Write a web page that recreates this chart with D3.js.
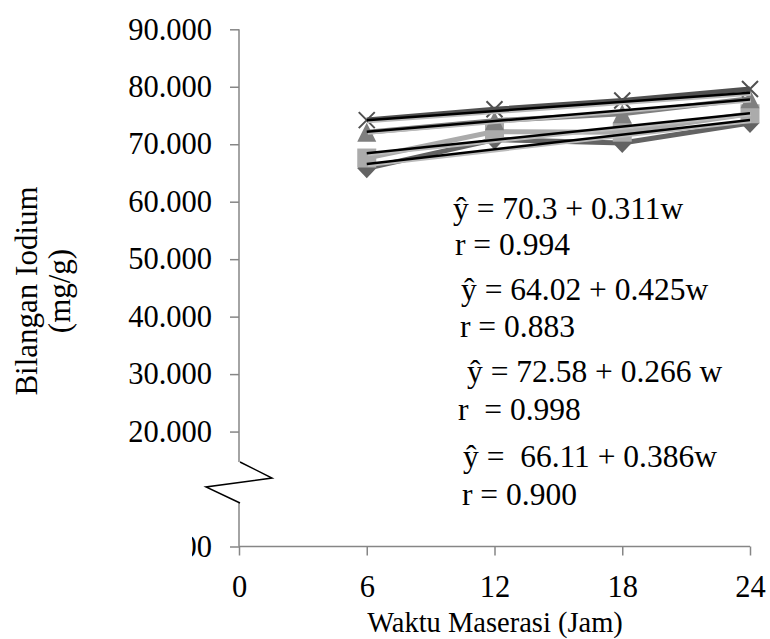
<!DOCTYPE html>
<html lang="id">
<head>
<meta charset="UTF-8">
<script src="https://d3js.org/d3.v7.min.js"></script>
<style>
  body { margin: 0; background: white; }
  svg { display: block; }
  .axis path, .axis line { stroke: #868686; stroke-width: 1.5px; }
</style>
</head>
<body>
<svg width="770" height="639"></svg>
<script>
// data
var waktu = [6, 12, 18, 24];
var xTicks = [0, 6, 12, 18, 24];
var yTicks = [0, 10, 20, 30, 40, 50, 60, 70, 80, 90];

var diamondVals = [65.8, 70.8, 70.2, 73.7];
var squareVals = [67.6, 72.2, 72.1, 75.3];
var triangleVals = [72.1, 74.1, 75.3, 77.9];
var crossVals = [74.2, 76.1, 77.6, 79.6];

// regression lines (from the printed equations)
var trendA = [64.02, 66.11, 70.3, 72.58];
var trendB = [0.425, 0.386, 0.311, 0.266];

var eqLines = [
  "\u0177 = 70.3 + 0.311w",
  "r = 0.994",
  "\u0177 = 64.02 + 0.425w",
  "r = 0.883",
  "\u0177 = 72.58 + 0.266 w",
  "r  = 0.998",
  "\u0177 =  66.11 + 0.386w",
  "r = 0.900"
];

var FONT = "'Liberation Serif', 'Times New Roman', serif";

var svg = d3.select("svg");

var x = d3.scaleLinear().domain([0, 24]).range([239, 750]);
var y = d3.scaleLinear().domain([0, 90]).range([546.5, 29.3]);

// axes
var yAxis = svg.append("g")
  .attr("class", "axis")
  .attr("transform", "translate(239,0)")
  .call(d3.axisLeft(y).tickValues(yTicks).tickSize(9).tickPadding(18)
    .tickFormat(function (d) { return d.toFixed(3); }));
yAxis.select(".domain").attr("d", "M0," + y(90) + "V" + y(0));

var xAxis = svg.append("g")
  .attr("class", "axis")
  .attr("transform", "translate(0," + y(0) + ")")
  .call(d3.axisBottom(x).tickValues(xTicks).tickSize(9).tickPadding(20));
xAxis.select(".domain").attr("d", "M" + x(0) + ",0H" + x(24));

svg.selectAll(".axis")
  .attr("font-family", FONT)
  .attr("font-size", 30.5)
  .selectAll("text").attr("fill", "black");

// axis break: hide the 10.000 part and most of the 0.000 label
svg.append("rect").attr("x", 110).attr("y", 462).attr("width", 135).attr("height", 41).attr("fill", "white");
svg.append("rect").attr("x", 110).attr("y", 530).attr("width", 82).attr("height", 32).attr("fill", "white");
svg.append("path")
  .attr("d", "M240,462L272,478L206,487L240,503")
  .attr("fill", "none")
  .attr("stroke", "black")
  .attr("stroke-width", 1.5);

// series
var series = [
  { vals: diamondVals, color: "#636363", shape: "diamond" },
  { vals: squareVals, color: "#ababab", shape: "square" },
  { vals: triangleVals, color: "#7f7f7f", shape: "triangle" },
  { vals: crossVals, color: "#505050", shape: "cross" }
];

var line = d3.line()
  .x(function (d, i) { return x(waktu[i]); })
  .y(function (d) { return y(d); });

var markerPath = {
  diamond: "M0,-10L9.5,0L0,10L-9.5,0Z",
  square: "M-9.5,-9.5H9.5V9.5H-9.5Z",
  triangle: "M0,-9.5L9.5,9.5H-9.5Z",
  cross: "M-8,-8L8,8M-8,8L8,-8"
};

series.forEach(function (s) {
  svg.append("path")
    .datum(s.vals)
    .attr("d", line)
    .attr("fill", "none")
    .attr("stroke", s.color)
    .attr("stroke-width", 5);

  svg.selectAll(null)
    .data(s.vals)
    .enter().append("path")
    .attr("transform", function (d, i) { return "translate(" + x(waktu[i]) + "," + y(d) + ")"; })
    .attr("d", markerPath[s.shape])
    .attr("fill", s.shape == "cross" ? "none" : s.color)
    .attr("stroke", s.color)
    .attr("stroke-width", s.shape == "cross" ? 2 : 0);
});

// trend lines
trendA.forEach(function (a, k) {
  var b = trendB[k];
  svg.append("line")
    .attr("x1", x(6)).attr("y1", y(a + b * 6))
    .attr("x2", x(24)).attr("y2", y(a + b * 24))
    .attr("stroke", "#bbbbbb")
    .attr("stroke-width", 3)
    .attr("transform", "translate(1,1.5)");
  svg.append("line")
    .attr("x1", x(6)).attr("y1", y(a + b * 6))
    .attr("x2", x(24)).attr("y2", y(a + b * 24))
    .attr("stroke", "black")
    .attr("stroke-width", 2.5);
});

// equation labels
var eqPos = [[453, 219], [455, 255], [461, 300], [460, 337], [467, 382], [458, 420], [463, 467], [462, 505]];
svg.selectAll(".eq")
  .data(eqLines)
  .enter().append("text")
  .attr("class", "eq")
  .attr("x", function (d, i) { return eqPos[i][0]; })
  .attr("y", function (d, i) { return eqPos[i][1]; })
  .attr("font-family", FONT)
  .attr("font-size", 31.5)
  .style("white-space", "pre")
  .text(function (d) { return d; });

// axis titles
svg.append("text")
  .attr("x", 495).attr("y", 632)
  .attr("text-anchor", "middle")
  .attr("font-family", FONT)
  .attr("font-size", 28.5)
  .text("Waktu Maserasi (Jam)");

svg.append("text")
  .attr("transform", "translate(37,291) rotate(-90)")
  .attr("text-anchor", "middle")
  .attr("font-family", FONT)
  .attr("font-size", 31)
  .text("Bilangan Iodium");
svg.append("text")
  .attr("transform", "translate(70,291) rotate(-90)")
  .attr("text-anchor", "middle")
  .attr("font-family", FONT)
  .attr("font-size", 31)
  .text("(mg/g)");
</script>
</body>
</html>
